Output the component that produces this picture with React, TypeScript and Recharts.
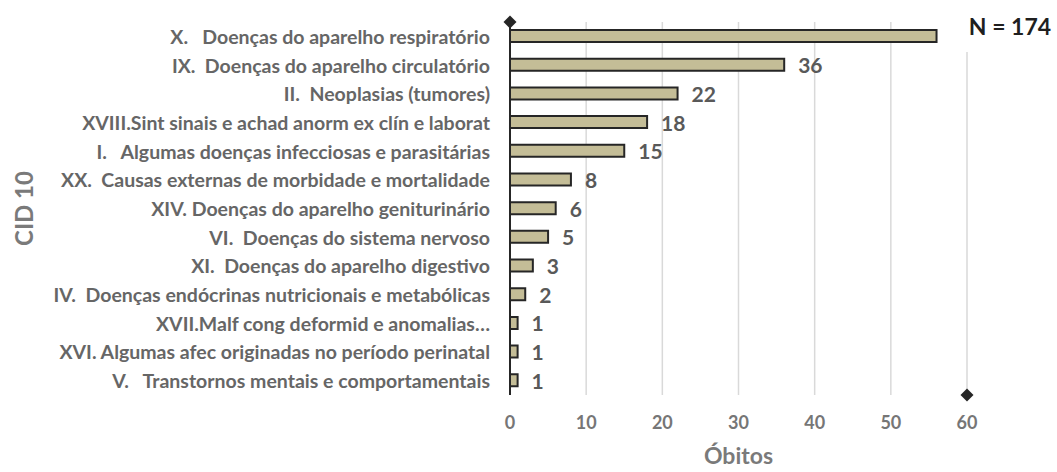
import React from "react";
import { BarChart, Bar, XAxis, YAxis, CartesianGrid, LabelList, Customized } from "recharts";

const categories = [
  "X.   Doenças do aparelho respiratório",
  "IX.  Doenças do aparelho circulatório",
  "II.  Neoplasias (tumores)",
  "XVIII.Sint sinais e achad anorm ex clín e laborat",
  "I.   Algumas doenças infecciosas e parasitárias",
  "XX.  Causas externas de morbidade e mortalidade",
  "XIV. Doenças do aparelho geniturinário",
  "VI.  Doenças do sistema nervoso",
  "XI.  Doenças do aparelho digestivo",
  "IV.  Doenças endócrinas nutricionais e metabólicas",
  "XVII.Malf cong deformid e anomalias…",
  "XVI. Algumas afec originadas no período perinatal",
  "V.   Transtornos mentais e comportamentais",
];
const obitos = [56, 36, 22, 18, 15, 8, 6, 5, 3, 2, 1, 1, 1];
const xTicks = [0, 10, 20, 30, 40, 50, 60];
const totalLabel = "N = 174";
const xTitle = "Óbitos";
const yTitle = "CID 10";

const data = categories.map((name, i) => ({ name, value: obitos[i] }));

const W = 1057;
const H = 472;
const M = { top: 22, right: 90, bottom: 47, left: 0 };
const Y_W = 510;
const X_H = 30;
const PL = M.left + Y_W;
const PR = W - M.right;
const PT = M.top;
const PB = H - M.bottom - X_H;

const FONT = "Lato, 'Open Sans', sans-serif";

const CatTick = (props: any) => {
  const { x, y, payload } = props;
  return (
    <text
      x={x}
      y={y}
      textAnchor="end"
      dominantBaseline="central"
      fontFamily={FONT}
      fontWeight={700}
      fontSize={19.5}
      fill="#666666"
      style={{ whiteSpace: "pre" }}
    >
      {payload.value}
    </text>
  );
};

// The reference hides the value of the first (longest) bar under the "N = 174" box.
const ValueLabel = (props: any) => {
  const { x, y, width, height, value, index } = props;
  if (index === 0) return null;
  return (
    <text
      x={x + width + 14}
      y={y + height / 2}
      textAnchor="start"
      dominantBaseline="central"
      fontFamily={FONT}
      fontWeight={700}
      fontSize={21}
      fill="#595959"
    >
      {value}
    </text>
  );
};

const diamond = (cx: number, cy: number, r: number) =>
  `M${cx},${cy - r} L${cx + r},${cy} L${cx},${cy + r} L${cx - r},${cy} Z`;

const Decor = () => (
  <g>
    <rect x={945} y={0} width={W - 945} height={52} fill="#ffffff" />
    <line x1={PL} y1={PT} x2={PL} y2={PB} stroke="#262626" strokeWidth={2} />
    <path d={diamond(PL, PT, 6.5)} fill="#262626" />
    <path d={diamond(PR, PB, 6.5)} fill="#262626" />
    <text
      x={1010}
      y={26}
      textAnchor="middle"
      dominantBaseline="central"
      fontFamily={FONT}
      fontWeight={700}
      fontSize={23}
      fill="#1f1f1f"
    >
      {totalLabel}
    </text>
    <text
      x={(PL + PR) / 2}
      y={455}
      textAnchor="middle"
      dominantBaseline="central"
      fontFamily={FONT}
      fontWeight={700}
      fontSize={23}
      fill="#7a7a7a"
    >
      {xTitle}
    </text>
    <text
      x={23}
      y={(PT + PB) / 2}
      textAnchor="middle"
      dominantBaseline="central"
      fontFamily={FONT}
      fontWeight={700}
      fontSize={24}
      fill="#7a7a7a"
      transform={`rotate(-90 23 ${(PT + PB) / 2})`}
    >
      {yTitle}
    </text>
  </g>
);

export default function App() {
  return (
    <div style={{ position: "absolute", left: 0, top: 0, width: W, height: H, background: "#fff" }}>
      <BarChart width={W} height={H} data={data} layout="vertical" margin={M}>
        <CartesianGrid horizontal={false} vertical={true} stroke="#d9d9d9" strokeWidth={1.5} />
        <XAxis
          type="number"
          domain={[0, 60]}
          ticks={xTicks}
          axisLine={false}
          tickLine={false}
          height={X_H}
          tickMargin={15}
          tick={{ fontFamily: FONT, fontWeight: 700, fontSize: 18, fill: "#767676" }}
        />
        <YAxis
          type="category"
          dataKey="name"
          width={Y_W}
          axisLine={false}
          tickLine={false}
          tickSize={6}
          tickMargin={14}
          interval={0}
          tick={<CatTick />}
        />
        <Bar dataKey="value" fill="#c4bd97" stroke="#262626" strokeWidth={2} barSize={12} isAnimationActive={false}>
          <LabelList dataKey="value" content={<ValueLabel />} />
        </Bar>
        <Customized component={Decor} />
      </BarChart>
    </div>
  );
}
